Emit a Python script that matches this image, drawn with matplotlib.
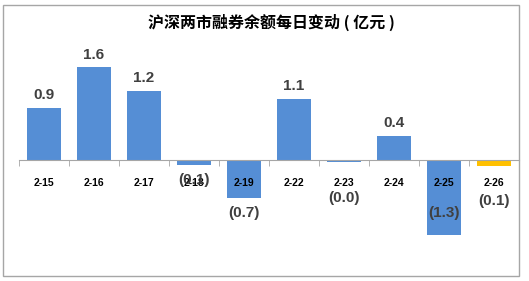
import numpy as np
import matplotlib
matplotlib.use("Agg")
from matplotlib import pyplot as plt
from matplotlib.patches import Rectangle

plt.rcParams['font.family'] = ['Liberation Sans', 'Noto Sans CJK SC', 'DejaVu Sans']

dates = ['2-15', '2-16', '2-17', '2-18', '2-19', '2-22', '2-23', '2-24', '2-25', '2-26']
changes = [0.9, 1.6, 1.2, -0.08, -0.65, 1.05, -0.03, 0.42, -1.3, -0.1]
labels = ['0.9', '1.6', '1.2', '(0.1)', '(0.7)', '1.1', '(0.0)', '0.4', '(1.3)', '(0.1)']
# where the negative labels sit (data units), as in the original sheet
neg_label_y = {3: -0.34, 4: -0.91, 6: -0.66, 8: -0.91, 9: -0.70}

blue = '#558ed5'
gold = '#ffc000'

fig = plt.figure(figsize=(5.29, 2.81), dpi=100)
fig.patches.append(Rectangle((3/529, 5/281), 516/529, 271/281, transform=fig.transFigure,
                             fill=False, edgecolor='#a6a6a6', linewidth=1.0))

ax = fig.add_axes([19/529, 16/281, 500/529, 240/281])
x = np.arange(len(dates))
colors = [blue] * (len(dates) - 1) + [gold]
ax.bar(x, changes, width=0.68, color=colors, zorder=1)
ax.set_axisbelow(False)

ax.set_xlim(-0.5, len(dates) - 0.5)
ax.set_ylim(-1.81, 2.33)
for s in ['top', 'right', 'left']:
    ax.spines[s].set_visible(False)
ax.spines['bottom'].set_position(('data', 0))
ax.spines['bottom'].set_color('#a6a6a6')
ax.set_yticks([])
ax.set_xticks(x)
ax.set_xticklabels(dates, fontsize=7.5, fontweight='bold')
ax.tick_params(axis='x', which='major', length=0, pad=13)
ax.set_xticks(np.arange(-0.5, len(dates)), minor=True)
ax.tick_params(axis='x', which='minor', length=4, color='#a6a6a6', direction='out')

for i, (v, lab) in enumerate(zip(changes, labels)):
    if v >= 0:
        ax.text(i, v + 0.1, lab, ha='center', va='bottom', fontsize=11,
                fontweight='bold', color='#404040', zorder=4)
    else:
        ax.text(i, neg_label_y[i], lab, ha='center', va='center', fontsize=11,
                fontweight='bold', color='#404040', zorder=4)

fig.text(271/529, 1 - 22/281, '沪深两市融券余额每日变动 ( 亿元 )', ha='center', va='center',
         fontsize=11.5, fontweight='bold', family=['Noto Sans CJK SC', 'DejaVu Sans'])

fig.savefig('out.png', dpi=100)
